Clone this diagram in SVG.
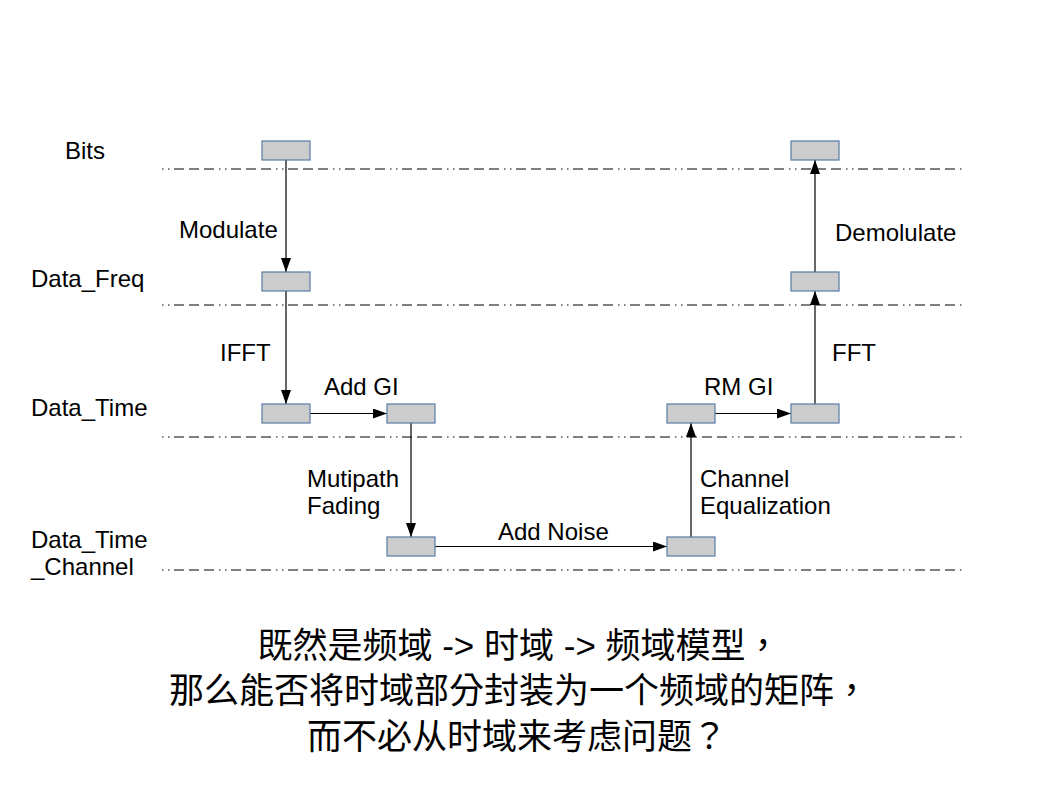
<svg xmlns="http://www.w3.org/2000/svg" width="1058" height="794" viewBox="0 0 1058 794">
<style>
.lbl{font-family:"Liberation Sans",Arial,sans-serif;font-size:24px;fill:#000}
.cn{font-family:"Liberation Sans","Noto Sans CJK TC",sans-serif;font-size:35px;fill:#000;text-anchor:middle}
.box{fill:#cccccc;stroke:#5a7aa6;stroke-width:1.2}
.sep{stroke:#555;stroke-width:1.4;fill:none;stroke-dasharray:1.5 4.5 1.5 4.5 10 5 10 5 10 5}
.con{stroke:#000;stroke-width:1.2;fill:none;marker-end:url(#ah)}
</style>
<defs>
<marker id="ah" viewBox="0 0 14 10" refX="14" refY="5" markerWidth="14" markerHeight="10" markerUnits="userSpaceOnUse" orient="auto">
<path d="M0,0 L14,5 L0,10 z" fill="#000"/>
</marker>
</defs>
<rect width="1058" height="794" fill="#fff"/>
<g id="separators">
<line class="sep" x1="162" y1="169" x2="966" y2="169"/>
<line class="sep" x1="162" y1="305" x2="966" y2="305"/>
<line class="sep" x1="162" y1="437" x2="966" y2="437"/>
<line class="sep" x1="162" y1="570" x2="966" y2="570"/>
</g>
<g id="layer-labels">
<text class="lbl" x="65" y="159">Bits</text>
<text class="lbl" x="31" y="287">Data_Freq</text>
<text class="lbl" x="31" y="416">Data_Time</text>
<text class="lbl" x="31" y="548">Data_Time</text>
<text class="lbl" x="31" y="575">_Channel</text>
</g>
<g id="connectors">
<line class="con" x1="286" y1="160" x2="286" y2="272"/>
<line class="con" x1="286" y1="291" x2="286" y2="404"/>
<line class="con" x1="310" y1="413.5" x2="387" y2="413.5"/>
<line class="con" x1="411" y1="423" x2="411" y2="537"/>
<line class="con" x1="435" y1="546.5" x2="667" y2="546.5"/>
<line class="con" x1="691" y1="537" x2="691" y2="423"/>
<line class="con" x1="715" y1="413.5" x2="791" y2="413.5"/>
<line class="con" x1="815" y1="404" x2="815" y2="291"/>
<line class="con" x1="815" y1="272" x2="815" y2="160"/>
</g>
<g id="connector-labels">
<text class="lbl" x="179" y="238">Modulate</text>
<text class="lbl" x="220" y="361">IFFT</text>
<text class="lbl" x="324" y="395">Add GI</text>
<text class="lbl" x="307" y="487">Mutipath</text>
<text class="lbl" x="307" y="514">Fading</text>
<text class="lbl" x="498" y="540">Add Noise</text>
<text class="lbl" x="700" y="487">Channel</text>
<text class="lbl" x="700" y="514">Equalization</text>
<text class="lbl" x="704" y="395">RM GI</text>
<text class="lbl" x="832" y="361">FFT</text>
<text class="lbl" x="835" y="241">Demolulate</text>
</g>
<g id="n-bits-tx"><rect class="box" x="262" y="141" width="48" height="19"/></g>
<g id="n-freq-tx"><rect class="box" x="262" y="272" width="48" height="19"/></g>
<g id="n-time-tx"><rect class="box" x="262" y="404" width="48" height="19"/></g>
<g id="n-time-gi"><rect class="box" x="387" y="404" width="48" height="19"/></g>
<g id="n-chan-tx"><rect class="box" x="387" y="537" width="48" height="19"/></g>
<g id="n-chan-rx"><rect class="box" x="667" y="537" width="48" height="19"/></g>
<g id="n-time-eq"><rect class="box" x="667" y="404" width="48" height="19"/></g>
<g id="n-time-rx"><rect class="box" x="791" y="404" width="48" height="19"/></g>
<g id="n-freq-rx"><rect class="box" x="791" y="272" width="48" height="19"/></g>
<g id="n-bits-rx"><rect class="box" x="791" y="141" width="48" height="19"/></g>
<g id="caption">
<text class="cn" x="519" y="658" font-size="34.3">既然是频域 -&gt; 时域 -&gt; 频域模型，</text>
<text class="cn" x="519" y="703" font-size="34.6">那么能否将时域部分封装为一个频域的矩阵，</text>
<text class="cn" x="517" y="749">而不必从时域来考虑问题？</text>
</g>
</svg>
